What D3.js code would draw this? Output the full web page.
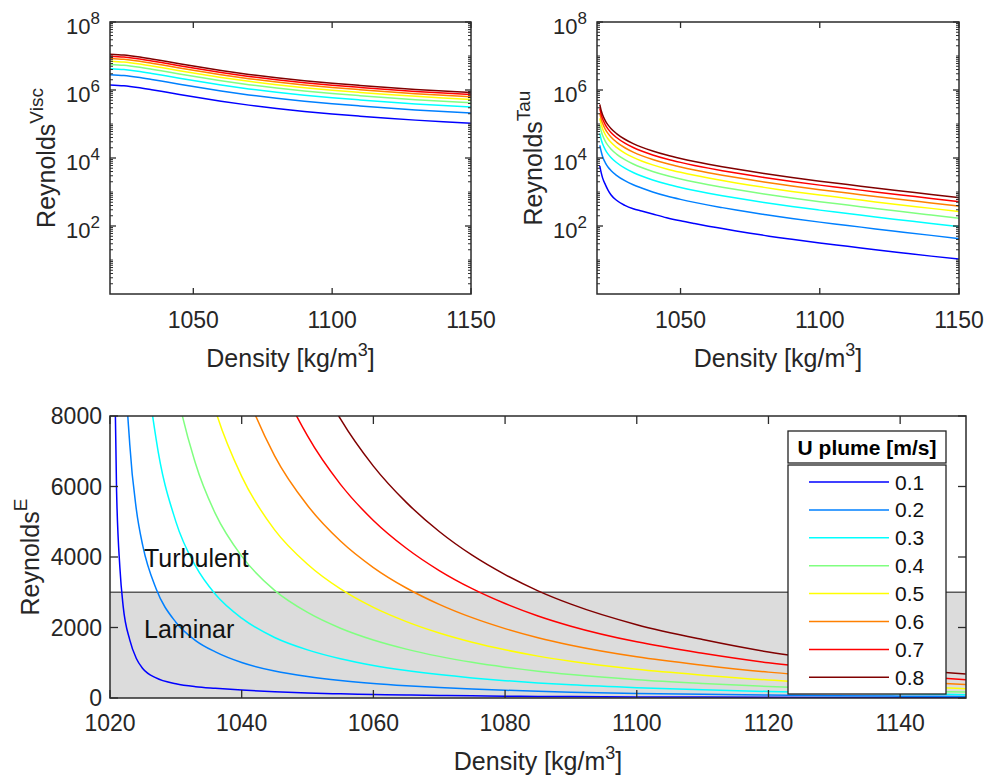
<!DOCTYPE html>
<html><head><meta charset="utf-8">
<script src="https://cdn.jsdelivr.net/npm/d3@7"></script>
<style>
body{margin:0;background:#fff}
svg{display:block}
text{font-family:Arial,"Liberation Sans",Helvetica,sans-serif;fill:#262626}
</style>
</head><body>
<svg id="chart" width="995" height="783"></svg>
<script>
// ---------------- data ----------------
const uPlume = ["0.1","0.2","0.3","0.4","0.5","0.6","0.7","0.8"];
const lineColors = ["#0000ff","#0080ff","#00ffff","#80ff80","#ffff00","#ff8000","#ff0000","#800000"];

// Reynolds^Visc panel
const densityVisc = [1020,1025,1030,1035,1040,1045,1050,1060,1070,1080,1090,1100,1110,1120,1130,1140,1150];
const reynoldsVisc = [
 [1.413e6,1.334e6,1.189e6,1.023e6,8.71e5,7.41e5,6.31e5,4.68e5,3.59e5,2.85e5,2.34e5,1.97e5,1.70e5,1.48e5,1.30e5,1.16e5,1.05e5],
 [2.826e6,2.668e6,2.378e6,2.046e6,1.742e6,1.482e6,1.262e6,9.36e5,7.18e5,5.70e5,4.68e5,3.94e5,3.40e5,2.96e5,2.60e5,2.32e5,2.10e5],
 [4.239e6,4.002e6,3.567e6,3.069e6,2.613e6,2.223e6,1.893e6,1.404e6,1.077e6,8.55e5,7.02e5,5.91e5,5.10e5,4.44e5,3.90e5,3.48e5,3.15e5],
 [5.652e6,5.336e6,4.756e6,4.092e6,3.484e6,2.964e6,2.524e6,1.872e6,1.436e6,1.14e6,9.36e5,7.88e5,6.80e5,5.92e5,5.20e5,4.64e5,4.20e5],
 [7.065e6,6.67e6,5.945e6,5.115e6,4.355e6,3.705e6,3.155e6,2.34e6,1.795e6,1.425e6,1.17e6,9.85e5,8.5e5,7.4e5,6.5e5,5.8e5,5.25e5],
 [8.478e6,8.004e6,7.134e6,6.138e6,5.226e6,4.446e6,3.786e6,2.808e6,2.154e6,1.71e6,1.404e6,1.182e6,1.02e6,8.88e5,7.8e5,6.96e5,6.3e5],
 [9.891e6,9.338e6,8.323e6,7.161e6,6.097e6,5.187e6,4.417e6,3.276e6,2.513e6,1.995e6,1.638e6,1.379e6,1.19e6,1.036e6,9.1e5,8.12e5,7.35e5],
 [1.1304e7,1.0672e7,9.512e6,8.184e6,6.968e6,5.928e6,5.048e6,3.744e6,2.872e6,2.28e6,1.872e6,1.576e6,1.36e6,1.184e6,1.04e6,9.28e5,8.4e5]
];

// Reynolds^E panel (also shown on log axis as Reynolds^Tau from 1021 on)
const densityE = [1020.5,1021,1021.5,1022,1023,1024,1025,1027,1030,1033,1036,1040,1045,1050,1055,1060,1065,1070,1075,1080,1085,1090,1100,1110,1120,1130,1140,1150];
const tauDensityMin = 1021;
const reynoldsE = [
 [11800,5860,3700,2600,1650,1120,830,570,405,322,276,225,175,142,118,99,84,71,61,53,46,40.5,31.5,25.2,20,16.1,13,10.6],
 [47200,23440,15560,11060,7200,5350,4300,3100,2150,1630,1308,1006,763,607,495,411,347,295,253,219,190,166,130,104,82,66,53,42.4],
 [106200,52740,35010,26190,17400,13030,10390,7353,5004,3739,2942,2264,1717,1365,1113,925,780,664,570,492,428,374,293,233,184,148,119,95.4],
 [188800,93760,62240,46560,30930,23160,18460,13070,8896,6646,5230,4024,3053,2427,1979,1645,1387,1181,1013,875,760,666,520,414,326,262,211,170],
 [295000,146500,97250,72750,48330,36190,28850,20430,13900,10390,8173,6288,4770,3793,3093,2570,2168,1845,1583,1368,1188,1040,813,648,510,410,330,265],
 [424800,211000,140000,104800,69590,52110,41540,29410,20020,14950,11770,9054,6869,5461,4453,3701,3121,2657,2279,1969,1710,1498,1170,932,734,590,475,382],
 [578200,287100,190600,142600,94720,70930,56550,40030,27240,20350,16020,12320,9349,7433,6061,5037,4248,3616,3102,2680,2328,2038,1593,1269,1000,804,647,519],
 [755200,375000,249000,186200,123700,92640,73860,52290,35580,26590,20920,16100,12210,9709,7917,6579,5549,4723,4051,3501,3040,2662,2080,1658,1306,1050,845,678]
];

const topXTicks = [1050,1100,1150];
const logYTicks = [1e2,1e4,1e6,1e8];
const logYExponents = ["2","4","6","8"];
const bottomXTicks = [1020,1040,1060,1080,1100,1120,1140];
const bottomYTicks = [0,2000,4000,6000,8000];
const laminarLimit = 3000;

// ---------------- drawing ----------------
const svg = d3.select("#chart");
const axisColor = "#2b2b2b";

function frame(g, x, y, opts){
  const [L,R] = x.range(), [B,T] = y.range();
  const tl = opts.tickLen;
  opts.xticks.forEach(v=>{
    const px = x(v);
    g.append("line").attr("x1",px).attr("x2",px).attr("y1",B).attr("y2",B-tl).attr("stroke",axisColor).attr("stroke-width",1.3);
    g.append("line").attr("x1",px).attr("x2",px).attr("y1",T).attr("y2",T+tl).attr("stroke",axisColor).attr("stroke-width",1.3);
  });
  opts.yticks.forEach(v=>{
    const py = y(v);
    g.append("line").attr("x1",L).attr("x2",L+tl).attr("y1",py).attr("y2",py).attr("stroke",axisColor).attr("stroke-width",1.3);
    g.append("line").attr("x1",R).attr("x2",R-tl).attr("y1",py).attr("y2",py).attr("stroke",axisColor).attr("stroke-width",1.3);
  });
  (opts.minor||[]).forEach(v=>{
    const py = y(v);
    g.append("line").attr("x1",L).attr("x2",L+3).attr("y1",py).attr("y2",py).attr("stroke",axisColor).attr("stroke-width",1);
    g.append("line").attr("x1",R).attr("x2",R-3).attr("y1",py).attr("y2",py).attr("stroke",axisColor).attr("stroke-width",1);
  });
  g.append("rect").attr("x",L).attr("y",T).attr("width",R-L).attr("height",B-T)
    .attr("fill","none").attr("stroke",axisColor).attr("stroke-width",1.5);
}

function densityLabel(g, cx, baseline){
  const t = g.append("text").attr("x",cx).attr("y",baseline).attr("text-anchor","middle").style("font-size","25px");
  t.append("tspan").text("Density [kg/m");
  t.append("tspan").attr("dy",-11).style("font-size","18px").text("3");
  t.append("tspan").attr("dy",11).text("]");
}
function reynoldsLabel(g, xBase, cy, sup){
  const t = g.append("text").attr("transform",`translate(${xBase},${cy}) rotate(-90)`)
    .attr("text-anchor","middle").style("font-size","25px");
  t.append("tspan").text("Reynolds");
  t.append("tspan").attr("dy",-12).style("font-size","19px").text(sup);
}

const minorLog = [];
for(let e=0;e<8;e++) for(let m=2;m<=10;m++){ const v=m*Math.pow(10,e); if(v<=1e8 && !logYTicks.includes(v)) minorLog.push(v); }

function logPanel(L, R, dens, rows, filterMin, labelX, sup){
  const g = svg.append("g");
  const x = d3.scaleLinear().domain([1020,1150]).range([L,R]);
  const y = d3.scaleLog().domain([1,1e8]).range([294,22]);
  const id = "clip"+L;
  svg.append("clipPath").attr("id",id).append("rect").attr("x",L).attr("y",22).attr("width",R-L).attr("height",272);
  const line = d3.line().x(d=>x(d[0])).y(d=>y(d[1])).curve(d3.curveMonotoneX);
  const lg = g.append("g").attr("clip-path",`url(#${id})`);
  rows.forEach((r,i)=>{
    const pts = dens.map((d,j)=>[d,r[j]]).filter(p=>p[0]>=filterMin);
    lg.append("path").attr("d",line(pts)).attr("fill","none").attr("stroke",lineColors[i]).attr("stroke-width",1.5);
  });
  frame(g, x, y, {xticks:topXTicks, yticks:logYTicks, minor:minorLog, tickLen:6});
  topXTicks.forEach(v=>{
    g.append("text").attr("x",x(v)).attr("y",328).attr("text-anchor","middle").style("font-size","23px").text(v);
  });
  logYTicks.forEach((v,i)=>{
    const t = g.append("text").attr("x",L-10).attr("y",y(v)+12).attr("text-anchor","end").style("font-size","22px");
    t.append("tspan").text("10");
    t.append("tspan").attr("dy",-10).style("font-size","17px").text(logYExponents[i]);
  });
  densityLabel(g,(L+R)/2,367);
  reynoldsLabel(g,labelX,158,sup);
}

logPanel(110,471,densityVisc,reynoldsVisc,1020,55,"Visc");
logPanel(597,959,densityE,reynoldsE,tauDensityMin,542,"Tau");

// bottom panel
(function(){
  const L=110,R=966,T=416,B=698;
  const g = svg.append("g");
  const x = d3.scaleLinear().domain([1020,1150]).range([L,R]);
  const y = d3.scaleLinear().domain([0,8000]).range([B,T]);
  svg.append("clipPath").attr("id","clipE").append("rect").attr("x",L).attr("y",T).attr("width",R-L).attr("height",B-T);
  g.append("rect").attr("x",L).attr("y",y(laminarLimit)).attr("width",R-L).attr("height",y(0)-y(laminarLimit)).attr("fill","#dcdcdc");
  g.append("line").attr("x1",L).attr("x2",R).attr("y1",y(laminarLimit)).attr("y2",y(laminarLimit)).attr("stroke","#5a5a5a").attr("stroke-width",1.6);
  const line = d3.line().x(d=>x(d[0])).y(d=>y(d[1])).curve(d3.curveMonotoneX);
  const lg = g.append("g").attr("clip-path","url(#clipE)");
  reynoldsE.forEach((r,i)=>{
    const pts = densityE.map((d,j)=>[d,r[j]]);
    lg.append("path").attr("d",line(pts)).attr("fill","none").attr("stroke",lineColors[i]).attr("stroke-width",1.5);
  });
  frame(g, x, y, {xticks:bottomXTicks, yticks:bottomYTicks, tickLen:8});
  bottomXTicks.forEach(v=>{
    g.append("text").attr("x",x(v)).attr("y",731).attr("text-anchor","middle").style("font-size","23px").text(v);
  });
  bottomYTicks.forEach(v=>{
    g.append("text").attr("x",L-8).attr("y",y(v)+8).attr("text-anchor","end").style("font-size","23px").text(v);
  });
  g.append("text").attr("x",144).attr("y",567).style("font-size","25px").style("fill","#111").text("Turbulent");
  g.append("text").attr("x",144).attr("y",638).style("font-size","25px").style("fill","#111").text("Laminar");
  densityLabel(g,(L+R)/2,770);
  reynoldsLabel(g,39,557,"E");

  // legend
  const lx=788, lw=158, ty=431, th=32, ey=465, eh=229;
  const leg = g.append("g");
  leg.append("rect").attr("x",lx).attr("y",ty).attr("width",lw).attr("height",th).attr("fill","#fff").attr("stroke","#222").attr("stroke-width",1.3);
  leg.append("rect").attr("x",lx).attr("y",ey).attr("width",lw).attr("height",eh).attr("fill","#fff").attr("stroke","#222").attr("stroke-width",1.3);
  leg.append("text").attr("x",lx+lw/2).attr("y",455).attr("text-anchor","middle").style("font-size","21px").style("font-weight","bold").style("fill","#000").text("U plume [m/s]");
  uPlume.forEach((u,i)=>{
    const yy = 482 + i*27.9;
    leg.append("line").attr("x1",809).attr("x2",889).attr("y1",yy).attr("y2",yy).attr("stroke",lineColors[i]).attr("stroke-width",1.5);
    leg.append("text").attr("x",895).attr("y",yy+7.5).style("font-size","21px").style("fill","#111").text(u);
  });
})();
</script>
</body></html>
